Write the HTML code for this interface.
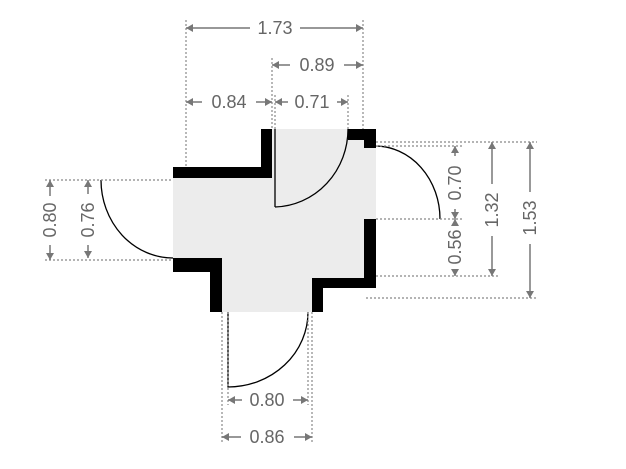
<!DOCTYPE html>
<html><head><meta charset="utf-8"><style>
html,body{margin:0;padding:0;background:#fff;}
svg{display:block;}
text{font-family:"Liberation Sans",sans-serif;font-size:18px;fill:#666;}
</style></head><body>
<svg width="626" height="469" viewBox="0 0 626 469">
<!-- floor -->
<polygon fill="#ececec" points="272,129 348,129 348,140 364,140 364,148 376,148 376,219 364,219 364,278 312,278 312,312 222,312 222,258 173,258 173,178 272,178"/>
<!-- walls -->
<g fill="#000">
<rect x="173" y="167" width="99" height="11"/>
<rect x="261" y="129" width="11" height="49"/>
<rect x="348" y="129" width="28" height="11"/>
<rect x="364" y="129" width="12" height="19"/>
<rect x="364" y="219" width="12" height="69"/>
<rect x="312" y="278" width="64" height="10"/>
<rect x="312" y="278" width="11" height="34"/>
<rect x="173" y="258" width="49" height="14"/>
<rect x="210" y="258" width="12" height="54"/>
</g>
<!-- doors -->
<g fill="none" stroke="#000" stroke-width="1.3">
<line x1="275" y1="129" x2="275" y2="207"/>
<path d="M275 207 A75 78 0 0 0 348 129"/>
<path d="M101 180 A72 78 0 0 0 173 258"/>
<path d="M375 146 A65 73 0 0 1 440 219"/>
<path d="M228 312 L228 387 A80 75 0 0 0 308 312"/>
</g>
<!-- extension lines dotted -->
<g stroke="#888" stroke-width="1.2" stroke-dasharray="2,2" fill="none">
<line x1="186" y1="20" x2="186" y2="167"/>
<line x1="363" y1="20" x2="363" y2="129"/>
<line x1="272" y1="58" x2="272" y2="129"/>
<line x1="275" y1="95" x2="275" y2="129"/>
<line x1="348" y1="95" x2="348" y2="129"/>
<line x1="45" y1="180" x2="173" y2="180"/>
<line x1="45" y1="260" x2="173" y2="260"/>
<line x1="376" y1="142" x2="537" y2="142"/>
<line x1="376" y1="146" x2="462" y2="146"/>
<line x1="376" y1="219" x2="462" y2="219"/>
<line x1="376" y1="276" x2="498" y2="276"/>
<line x1="366" y1="298" x2="537" y2="298"/>
<line x1="228" y1="312" x2="228" y2="405"/>
<line x1="308" y1="312" x2="308" y2="405"/>
<line x1="222" y1="312" x2="222" y2="443"/>
<line x1="312" y1="312" x2="312" y2="443"/>
</g>
<!-- dimension lines -->
<g stroke="#777" stroke-width="1.5" fill="#777">
<line x1="186" y1="28" x2="250" y2="28"/><line x1="300" y1="28" x2="363" y2="28"/>
<line x1="272" y1="65" x2="290" y2="65"/><line x1="344" y1="65" x2="363" y2="65"/>
<line x1="186" y1="102" x2="202" y2="102"/><line x1="256" y1="102" x2="272" y2="102"/>
<line x1="275" y1="102" x2="288" y2="102"/><line x1="337" y1="102" x2="348" y2="102"/>
<line x1="228" y1="400" x2="242" y2="400"/><line x1="293" y1="400" x2="308" y2="400"/>
<line x1="222" y1="437" x2="241" y2="437"/><line x1="294" y1="437" x2="312" y2="437"/>
<line x1="50" y1="180" x2="50" y2="196"/><line x1="50" y1="245" x2="50" y2="260"/>
<line x1="88" y1="180" x2="88" y2="194"/><line x1="88" y1="245" x2="88" y2="258"/>
<line x1="455" y1="146" x2="455" y2="156"/><line x1="455" y1="209" x2="455" y2="219"/>
<line x1="455" y1="219" x2="455" y2="224"/><line x1="455" y1="270" x2="455" y2="276"/>
<line x1="492" y1="142" x2="492" y2="184"/><line x1="492" y1="236" x2="492" y2="276"/>
<line x1="530" y1="142" x2="530" y2="192"/><line x1="530" y1="244" x2="530" y2="298"/>
</g>
<g fill="#777">
<path d="M186 28 l7 -4 v8z M363 28 l-7 -4 v8z"/>
<path d="M272 65 l7 -4 v8z M363 65 l-7 -4 v8z"/>
<path d="M186 102 l7 -4 v8z M272 102 l-7 -4 v8z"/>
<path d="M275 102 l7 -4 v8z M348 102 l-7 -4 v8z"/>
<path d="M228 400 l7 -4 v8z M308 400 l-7 -4 v8z"/>
<path d="M222 437 l7 -4 v8z M312 437 l-7 -4 v8z"/>
<path d="M50 180 l-4 7 h8z M50 260 l-4 -7 h8z"/>
<path d="M88 180 l-4 7 h8z M88 258 l-4 -7 h8z"/>
<path d="M455 146 l-4 7 h8z M455 219 l-4 -7 h8z"/>
<path d="M455 219 l-4 7 h8z M455 276 l-4 -7 h8z"/>
<path d="M492 142 l-4 7 h8z M492 276 l-4 -7 h8z"/>
<path d="M530 142 l-4 7 h8z M530 298 l-4 -7 h8z"/>
</g>
<g text-anchor="middle">
<text x="275" y="34">1.73</text>
<text x="317" y="71">0.89</text>
<text x="229" y="108">0.84</text>
<text x="312" y="108">0.71</text>
<text x="267" y="406">0.80</text>
<text x="267" y="443">0.86</text>
<text transform="translate(56,220) rotate(-90)">0.80</text>
<text transform="translate(94,220) rotate(-90)">0.76</text>
<text transform="translate(461,183) rotate(-90)">0.70</text>
<text transform="translate(461,247) rotate(-90)">0.56</text>
<text transform="translate(498,210) rotate(-90)">1.32</text>
<text transform="translate(536,218) rotate(-90)">1.53</text>
</g>
</svg>
</body></html>
